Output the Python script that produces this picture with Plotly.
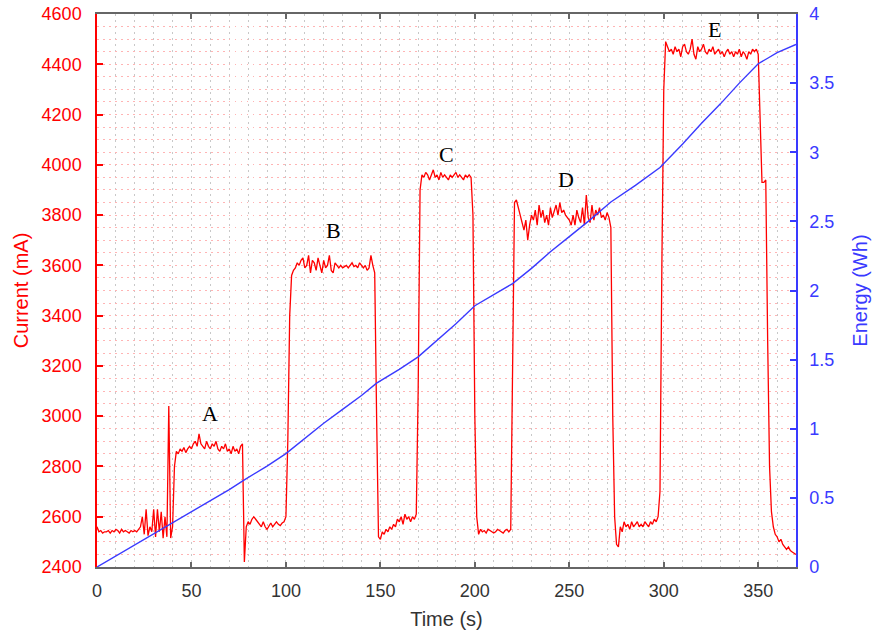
import plotly.graph_objects as go

# ---- Current (mA), sampled every 1 s, grouped into segments (start time, values)
cur_segments = [
    (0, [2560, 2540, 2545, 2535, 2540, 2540, 2545, 2535, 2545, 2540,
         2550, 2545, 2535, 2550, 2540, 2545, 2540, 2535, 2545, 2540,
         2545, 2540, 2550, 2560, 2600, 2530, 2630, 2525, 2560, 2540,
         2630, 2520, 2630, 2540, 2620, 2515, 2600, 2520, 3040, 2515]),
    (40, [2560, 2800, 2860, 2850, 2870, 2860, 2875, 2855, 2870, 2880,
          2870, 2890, 2900, 2880, 2930, 2890, 2880, 2870, 2900, 2880,
          2870, 2890, 2880, 2900, 2870, 2860, 2880, 2870, 2890, 2860,
          2870, 2850, 2880, 2860, 2870, 2850, 2880, 2890]),
    (78, [2420, 2560, 2580, 2570, 2590, 2600, 2590, 2580, 2570, 2560,
          2580, 2560, 2550, 2565, 2575, 2560, 2570, 2580, 2570, 2565,
          2575, 2580]),
    (100, [2600, 2900, 3400, 3560, 3580,
           3590, 3610, 3600, 3620, 3630, 3590, 3600, 3640, 3570, 3620,
           3610, 3580, 3630, 3600, 3570, 3620, 3590, 3600, 3640, 3580,
           3570, 3610, 3600, 3590, 3600, 3590, 3595, 3600, 3590, 3600,
           3610, 3595, 3600, 3590, 3610, 3600, 3590, 3600, 3580, 3590,
           3640, 3600, 3570]),
    (148, [3000, 2520, 2510, 2540, 2530, 2550, 2540, 2560, 2550, 2570,
           2560, 2590, 2580, 2600, 2570, 2610, 2590, 2600, 2580, 2600,
           2590, 2610]),
    (170, [3100, 3900, 3960,
           3950, 3970, 3960, 3940, 3960, 3980, 3950, 3960, 3940, 3970,
           3950, 3960, 3950, 3940, 3960, 3950, 3960, 3970, 3950, 3960,
           3950, 3940, 3960, 3950, 3960, 3950]),
    (199, [3800, 3000, 2600, 2530, 2550, 2540, 2545, 2535, 2550, 2545,
           2540, 2535, 2540, 2550, 2545, 2540, 2535, 2545, 2550, 2540,
           2550]),
    (220, [3200, 3850, 3860,
           3830, 3800, 3760, 3740, 3780, 3700, 3760, 3800, 3780, 3820,
           3760, 3840, 3790, 3820, 3770, 3800, 3760, 3830, 3790, 3820,
           3840, 3800, 3850, 3810, 3820, 3800, 3790, 3780, 3760, 3800,
           3760, 3820, 3790, 3770, 3830, 3760, 3880, 3790, 3770, 3840,
           3780, 3820, 3800, 3830, 3790, 3800, 3780, 3810, 3790]),
    (272, [3750, 3000, 2600, 2490, 2480, 2560, 2540, 2580, 2560, 2570,
           2550, 2580, 2560, 2570, 2580, 2560, 2570, 2560, 2580, 2570,
           2560, 2580, 2570, 2590, 2580, 2600]),
    (298, [2700, 3600, 4300, 4490, 4470,
           4450, 4460, 4440, 4470, 4450, 4460, 4430, 4470, 4480, 4450,
           4440, 4460, 4500, 4440, 4420, 4470, 4450, 4460, 4480, 4450,
           4440, 4460, 4450, 4470, 4440, 4450, 4460, 4440, 4450, 4430,
           4450, 4460, 4440, 4450, 4430, 4450, 4440, 4460, 4430, 4450,
           4440, 4420, 4450, 4440, 4460, 4450, 4460]),
    (350, [4440, 4200, 3930, 3930, 3940, 3300, 2800, 2620, 2560, 2530,
           2520, 2500, 2510, 2490, 2480, 2470, 2480, 2465, 2460, 2455,
           2450]),
]

time_s = []
current_mA = []
for t0, vals in cur_segments:
    for i, v in enumerate(vals):
        time_s.append(t0 + i)
        current_mA.append(v)

# ---- Energy (Wh)
energy_t = [0, 10, 20, 30, 38, 50, 60, 70, 78, 90, 100, 110, 120, 130, 140, 148,
            160, 170, 180, 190, 200, 210, 220, 230, 240, 250, 260, 272, 285, 298,
            310, 320, 330, 340, 350, 355, 360, 370]
energy_wh = [0, 0.08, 0.16, 0.24, 0.30, 0.40, 0.48, 0.56, 0.63, 0.73, 0.82, 0.93,
             1.04, 1.14, 1.24, 1.33, 1.43, 1.52, 1.64, 1.76, 1.89, 1.97, 2.05,
             2.16, 2.28, 2.39, 2.50, 2.64, 2.76, 2.89, 3.06, 3.21, 3.35, 3.50,
             3.64, 3.68, 3.72, 3.78]

labels = ["A", "B", "C", "D", "E"]
label_t = [60, 125, 185, 248, 327]
label_mA = [3010, 3740, 4040, 3940, 4540]

RED = "#ff0000"
BLUE = "#3a3aff"
VGRID = "#c8c8c8"
HGRID = "#ffb4b4"
GDASH = "1.5px,4.5px"

fig = go.Figure()
fig.add_trace(go.Scatter(x=time_s, y=current_mA, mode="lines",
                         line=dict(color=RED, width=1.3), showlegend=False))
fig.add_trace(go.Scatter(x=energy_t, y=energy_wh, mode="lines", yaxis="y2",
                         line=dict(color=BLUE, width=1.4), showlegend=False))

for lab, tx, ty in zip(labels, label_t, label_mA):
    fig.add_annotation(x=tx, y=ty, text=lab, showarrow=False,
                       font=dict(family="Liberation Serif", size=22, color="black"))

fig.update_layout(
    width=873, height=641,
    margin=dict(l=97, r=77, t=14, b=74, autoexpand=False),
    paper_bgcolor="white", plot_bgcolor="white",
    font=dict(family="Liberation Sans, Arial", size=17),
    xaxis=dict(
        range=[0, 370], dtick=50, tick0=0, automargin=False,
        showline=True, linecolor="#666666", linewidth=1.5, mirror="ticks",
        ticks="inside", ticklen=5, tickwidth=1.5, tickcolor="#666666",
        tickfont=dict(color="#333333", size=18), ticklabelstandoff=7,
        ticklabeloverflow="allow",
        showgrid=True, gridcolor=VGRID, griddash=GDASH, gridwidth=1,
        minor=dict(dtick=10, showgrid=True, gridcolor=VGRID, griddash=GDASH, gridwidth=1),
        zeroline=False,
        title=dict(text="Time (s)", font=dict(color="#333333", size=20), standoff=12),
    ),
    yaxis=dict(
        range=[2400, 4600], dtick=200, tick0=2400, automargin=False,
        showline=True, linecolor=RED, linewidth=1.5,
        ticks="inside", ticklen=6, tickwidth=1.5, tickcolor=RED,
        tickfont=dict(color=RED, size=18), ticklabelstandoff=10,
        ticklabeloverflow="allow",
        showgrid=True, gridcolor=HGRID, griddash=GDASH, gridwidth=1,
        minor=dict(dtick=50, showgrid=True, gridcolor=HGRID, griddash=GDASH, gridwidth=1),
        zeroline=False,
        title=dict(text="Current (mA)", font=dict(color=RED, size=20), standoff=8),
    ),
    yaxis2=dict(
        range=[0, 4], dtick=0.5, tick0=0, overlaying="y", side="right", automargin=False,
        showline=True, linecolor=BLUE, linewidth=1.5,
        ticks="inside", ticklen=6, tickwidth=1.5, tickcolor=BLUE,
        tickfont=dict(color=BLUE, size=18), ticklabelstandoff=8,
        ticklabeloverflow="allow",
        showgrid=False, zeroline=False,
        title=dict(text="Energy (Wh)", font=dict(color=BLUE, size=20), standoff=20),
    ),
)

fig.write_html(
    "out.html",
    config={"displayModeBar": False},
    post_script="document.body.style.margin='0';document.body.style.overflow='hidden';",
)
